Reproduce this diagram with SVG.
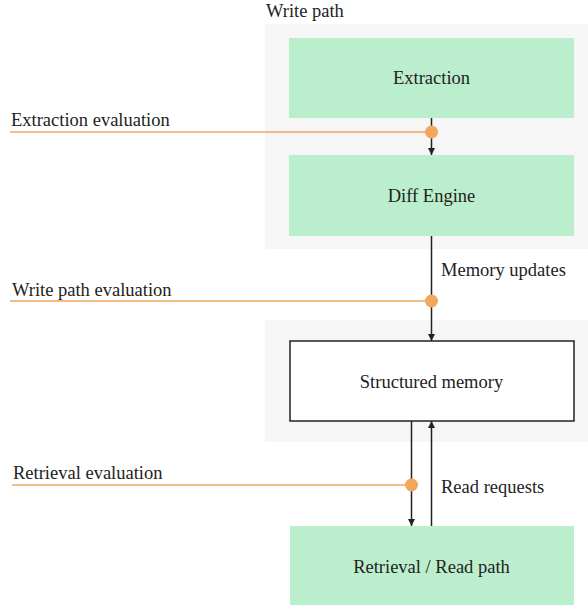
<svg xmlns="http://www.w3.org/2000/svg" width="588" height="605" viewBox="0 0 588 605">
<style>
.mid{text-anchor:middle}
.cluster{fill:#f6f6f6}
.green{fill:#bbeecc}
.edge{stroke:#222;stroke-width:1.5;fill:none}
.eval{stroke:#f0a460;stroke-width:1.5;fill:none}
.dot{fill:#f2a65e}
</style>
<defs>
<marker id="arr" viewBox="0 0 10 10" refX="10" refY="5" markerWidth="7" markerHeight="7" markerUnits="userSpaceOnUse" orient="auto">
<path d="M0,0 L10,5 L0,10 Z" fill="#222"/>
</marker>
</defs>
<g font-family="'Liberation Serif', serif" font-size="18.5" fill="#222">
<g id="cluster-write">
<rect class="cluster" x="265" y="24" width="323" height="225"/>
<text x="266" y="17">Write path</text>
</g>
<g id="cluster-memory">
<rect class="cluster" x="265" y="320" width="323" height="122"/>
</g>
<g id="extraction">
<rect class="green" x="289" y="38" width="285" height="80"/>
<text class="mid" x="431.5" y="84">Extraction</text>
</g>
<g id="diff-engine">
<rect class="green" x="289" y="155" width="285" height="81"/>
<text class="mid" x="431.5" y="202">Diff Engine</text>
</g>
<g id="structured-memory">
<rect x="290" y="341" width="284" height="80" fill="#fff" stroke="#222" stroke-width="1.5"/>
<text class="mid" x="431.5" y="388">Structured memory</text>
</g>
<g id="retrieval">
<rect class="green" x="290" y="526" width="284" height="79"/>
<text class="mid" x="431.5" y="573">Retrieval / Read path</text>
</g>
<g id="connectors">
<line class="edge" x1="431.5" y1="118" x2="431.5" y2="155" marker-end="url(#arr)"/>
<line class="edge" x1="431.5" y1="236" x2="431.5" y2="341" marker-end="url(#arr)"/>
<text x="441" y="276">Memory updates</text>
<line class="edge" x1="411.5" y1="421" x2="411.5" y2="526" marker-end="url(#arr)"/>
<line class="edge" x1="431.5" y1="526" x2="431.5" y2="421" marker-end="url(#arr)"/>
<text x="441" y="493">Read requests</text>
</g>
<g id="evaluations">
<line class="eval" x1="10" y1="132" x2="431.5" y2="132"/>
<circle class="dot" cx="431.5" cy="132" r="6.5"/>
<text x="11" y="126">Extraction evaluation</text>
<line class="eval" x1="10" y1="301" x2="431.5" y2="301"/>
<circle class="dot" cx="431.5" cy="301" r="6.5"/>
<text x="12" y="296">Write path evaluation</text>
<line class="eval" x1="12" y1="485" x2="411.5" y2="485"/>
<circle class="dot" cx="411.5" cy="485" r="6.5"/>
<text x="13" y="479">Retrieval evaluation</text>
</g>
</g>
</svg>
